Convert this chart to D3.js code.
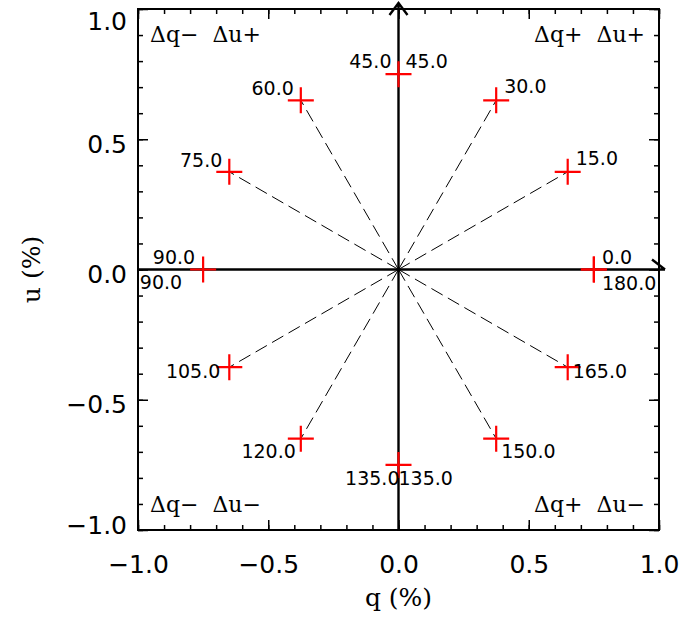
<!DOCTYPE html>
<html>
<head>
<meta charset="utf-8">
<script src="https://cdn.jsdelivr.net/npm/d3@7"></script>
<style>
  body { margin: 0; background: #fff; }
  svg { display: block; }
  .tick text { font-family: "DejaVu Sans", sans-serif; }
</style>
</head>
<body>
<svg id="chart" width="682" height="620"></svg>
<script>
// polarisation angles (deg) of the markers, and fractional polarisation (%)
const angles = [0, 15, 30, 45, 60, 75, 90, 105, 120, 135, 150, 165, 180];
const pol = 0.75;
// angle labels; repeated ones are written on both sides of the point
const labelAngles = [0, 15, 30, 45, 45, 60, 75, 90, 90, 105, 120, 135, 135, 150, 165, 180];
const quadLabels = ["Δq−  Δu+", "Δq+  Δu+", "Δq−  Δu−", "Δq+  Δu−"];
const majorTicks = [-1, -0.5, 0, 0.5, 1];
const minorTicks = d3.range(-10, 11).map(d => d / 10);

const margin = { top: 9, right: 23, bottom: 90, left: 138 };
const W = 682, H = 620;
const width = W - margin.left - margin.right,
  height = H - margin.top - margin.bottom;

const x = d3.scaleLinear().domain([-1, 1]).range([0, width]);
const y = d3.scaleLinear().domain([-1, 1]).range([height, 0]);

const svg = d3.select("#chart");
const g = svg.append("g").attr("transform", "translate(" + margin.left + "," + margin.top + ")");

const rad = a => (2 * a * Math.PI) / 180;
const qOf = a => pol * Math.cos(rad(a));
const uOf = a => pol * Math.sin(rad(a));

// ticks, all pointing inward, on four sides
function ticks(axis, size, values, labels) {
  return axis.tickValues(values).tickSize(size).tickFormat(labels ? d3.format(".1f") : "");
}
g.append("g").attr("transform", "translate(0," + height + ")").call(ticks(d3.axisBottom(x), -5, minorTicks));
g.append("g").attr("class", "xAxis").attr("transform", "translate(0," + height + ")").call(ticks(d3.axisBottom(x), -10, majorTicks, true));
g.append("g").call(ticks(d3.axisTop(x), -5, minorTicks));
g.append("g").call(ticks(d3.axisTop(x), -10, majorTicks));
g.append("g").call(ticks(d3.axisLeft(y), -5, minorTicks));
g.append("g").attr("class", "yAxis").call(ticks(d3.axisLeft(y), -10, majorTicks, true));
g.append("g").attr("transform", "translate(" + width + ",0)").call(ticks(d3.axisRight(y), -5, minorTicks));
g.append("g").attr("transform", "translate(" + width + ",0)").call(ticks(d3.axisRight(y), -10, majorTicks));

g.selectAll(".domain").remove();
g.selectAll(".tick line").attr("stroke", "#000").attr("stroke-width", 1.5);

g.selectAll(".xAxis .tick text")
  .attr("y", 25).attr("dy", "0.71em")
  .style("font-size", "25px").attr("fill", "#000")
  .text(d => d3.format(".1f")(d).replace("-", "−"));
g.selectAll(".yAxis .tick text")
  .attr("x", -11).attr("dy", d => (d === 1 ? 20 : d === -1 ? 3 : 13))
  .style("font-size", "25px").attr("fill", "#000")
  .text(d => d3.format(".1f")(d).replace("-", "−"));

// frame
g.append("rect").attr("width", width).attr("height", height)
  .attr("fill", "none").attr("stroke", "#000").attr("stroke-width", 2);

// q and u axes through the origin, with arrow heads
const axisPath = d3.path();
axisPath.moveTo(x(-1), y(0)); axisPath.lineTo(x(1) + 6, y(0));
axisPath.moveTo(x(1) - 7, y(0) - 10); axisPath.lineTo(x(1) + 6, y(0));
axisPath.moveTo(x(0), y(-1)); axisPath.lineTo(x(0), y(1) - 6);
axisPath.moveTo(x(0) - 9, y(1) + 6); axisPath.lineTo(x(0), y(1) - 6); axisPath.lineTo(x(0) + 9, y(1) + 6);
g.append("path").attr("d", axisPath.toString())
  .attr("fill", "none").attr("stroke", "#000").attr("stroke-width", 2.4);

// dashed rays from the origin
g.selectAll(".ray").data(angles).enter().append("line")
  .attr("class", "ray")
  .attr("x1", x(0)).attr("y1", y(0))
  .attr("x2", d => x(qOf(d))).attr("y2", d => y(uOf(d)))
  .attr("stroke", "#000").attr("stroke-width", 1)
  .attr("stroke-dasharray", "13,6");

// red plus markers
const cs = 13;
g.selectAll(".mark").data(angles).enter().append("path")
  .attr("class", "mark")
  .attr("transform", d => "translate(" + x(qOf(d)) + "," + y(uOf(d)) + ")")
  .attr("d", "M" + -cs + ",0H" + cs + "M0," + -cs + "V" + cs)
  .attr("stroke", "#ff0000").attr("stroke-width", 2.2).attr("fill", "none");

// angle labels
const seen = {};
const labelData = labelAngles.map(a => {
  const k = seen[a] || 0;
  seen[a] = k + 1;
  const q = qOf(a), u = uOf(a), eps = 1e-9;
  let anchor = "start", dx = 7, dy = -6;
  if (u > eps) {
    dy = -6;
    if (Math.abs(q) < eps) { anchor = k === 0 ? "end" : "start"; dx = k === 0 ? -7 : 7; }
    else if (q > 0) { anchor = "start"; dx = 8; dy = -7; }
    else { anchor = "end"; dx = -7; dy = -5; }
  } else if (u < -eps) {
    dy = Math.abs(u) > 0.5 ? 19 : 11;
    if (Math.abs(q) < eps) { anchor = k === 0 ? "end" : "start"; dx = k === 0 ? 1 : 0; dy = 20; }
    else if (q > 0) { anchor = "start"; dx = 5; }
    else { anchor = "end"; dx = Math.abs(u) > 0.5 ? -5 : -9; }
  } else if (q > 0) {
    anchor = "start"; dx = 8; dy = a === 0 ? -6 : 20;
  } else {
    anchor = "end"; dx = k === 0 ? -8 : -21; dy = k === 0 ? -6 : 19;
  }
  return { a, anchor, px: x(q) + dx, py: y(u) + dy };
});
g.selectAll(".alab").data(labelData).enter().append("text")
  .attr("class", "alab")
  .attr("x", d => d.px).attr("y", d => d.py)
  .attr("text-anchor", d => d.anchor)
  .style("font-family", "DejaVu Sans, sans-serif").style("font-size", "19px")
  .text(d => d3.format(".1f")(d.a));

// quadrant labels
g.selectAll(".qlab").data(quadLabels).enter().append("text")
  .attr("class", "qlab")
  .attr("x", (d, i) => (i % 2 === 0 ? 12 : width - 14))
  .attr("y", (d, i) => (i < 2 ? 33 : height - 18))
  .attr("text-anchor", (d, i) => (i % 2 === 0 ? "start" : "end"))
  .style("font-family", "DejaVu Serif, serif").style("font-size", "22px")
  .style("white-space", "pre")
  .text(d => d);

// axis titles
svg.append("text")
  .attr("x", margin.left + width / 2).attr("y", 606)
  .attr("text-anchor", "middle")
  .style("font-family", "DejaVu Serif, serif").style("font-size", "25px")
  .text("q (%)");
svg.append("text")
  .attr("transform", "translate(40," + (margin.top + height / 2) + ") rotate(-90)")
  .attr("text-anchor", "middle")
  .style("font-family", "DejaVu Serif, serif").style("font-size", "25px")
  .text("u (%)");
</script>
</body>
</html>
